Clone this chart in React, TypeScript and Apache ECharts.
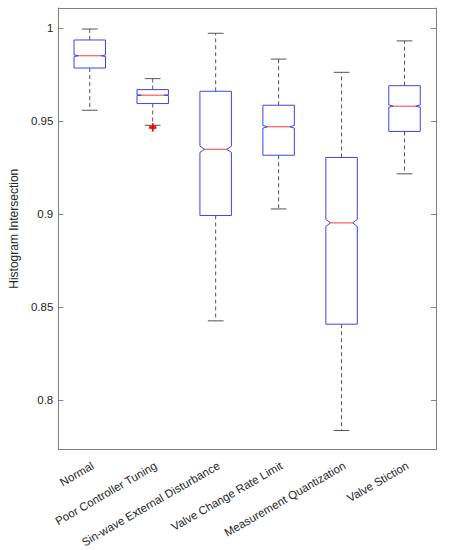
import React, { useEffect, useRef } from "react";
import * as echarts from "echarts";

const categories = [
  "Normal",
  "Poor Controller Tuning",
  "Sin-wave External Disturbance",
  "Valve Change Rate Limit",
  "Measurement Quantization",
  "Valve Stiction",
];
const whiskerHigh = [0.9996, 0.9729, 0.9973, 0.9834, 0.9763, 0.9932];
const q3 = [0.9937, 0.967, 0.9661, 0.9586, 0.9305, 0.9691];
const medians = [0.9852, 0.964, 0.9349, 0.947, 0.8953, 0.9581];
const q1 = [0.9786, 0.9595, 0.8993, 0.9317, 0.8408, 0.9445];
const whiskerLow = [0.9559, 0.9478, 0.8426, 0.9028, 0.7836, 0.9217];
const notchHalf = [0.0004, 0.0002, 0.0017, 0.0007, 0.0019, 0.0006];
const outliers: [number, number][] = [
  [1, 0.9472],
  [1, 0.9468],
  [1, 0.9465],
  [1, 0.9462],
];
const yTicks = [0.8, 0.85, 0.9, 0.95, 1];

const Y_MIN = 0.7734;
const Y_MAX = 1.0109;

const AXIS_COLOR = "#808080";
const TEXT_COLOR = "#262626";
const BOX_COLOR = "#4040f2";
const MED_COLOR = "#ff3a3a";
const WHISK_COLOR = "#555555";
const FONT = "'Liberation Sans', Arial, sans-serif";

export default function App() {
  const ref = useRef<HTMLDivElement>(null);
  useEffect(() => {
    document.body.style.margin = "0";
    const chart = echarts.init(ref.current!, null, { renderer: "svg" });
    const boxData = categories.map((_, i) => [
      i,
      whiskerLow[i],
      q1[i],
      medians[i],
      q3[i],
      whiskerHigh[i],
      notchHalf[i],
    ]);
    const renderItem = (params: any, api: any) => {
      const i = api.value(0);
      const lo = api.value(1);
      const b1 = api.value(2);
      const med = api.value(3);
      const b3 = api.value(4);
      const hi = api.value(5);
      const nh = api.value(6);
      const band = api.size([1, 0])[0];
      const bw = band * 0.5;
      const cx = api.coord([i, med])[0];
      const Y = (v: number) => api.coord([i, v])[1];
      const L = cx - bw / 2;
      const R = cx + bw / 2;
      const d = bw * 0.15;
      const capW = bw / 2;
      const dashStyle = { stroke: WHISK_COLOR, lineWidth: 1, lineDash: [4, 3] };
      const solid = { stroke: WHISK_COLOR, lineWidth: 1 };
      return {
        type: "group",
        children: [
          { type: "line", shape: { x1: cx, y1: Y(b3), x2: cx, y2: Y(hi) }, style: dashStyle },
          { type: "line", shape: { x1: cx, y1: Y(b1), x2: cx, y2: Y(lo) }, style: dashStyle },
          { type: "line", shape: { x1: cx - capW / 2, y1: Y(hi), x2: cx + capW / 2, y2: Y(hi) }, style: solid },
          { type: "line", shape: { x1: cx - capW / 2, y1: Y(lo), x2: cx + capW / 2, y2: Y(lo) }, style: solid },
          {
            type: "polygon",
            shape: {
              points: [
                [L, Y(b3)],
                [R, Y(b3)],
                [R, Y(med + nh)],
                [R - d, Y(med)],
                [R, Y(med - nh)],
                [R, Y(b1)],
                [L, Y(b1)],
                [L, Y(med - nh)],
                [L + d, Y(med)],
                [L, Y(med + nh)],
              ],
            },
            style: { fill: "none", stroke: BOX_COLOR, lineWidth: 1 },
          },
          {
            type: "line",
            shape: { x1: L + d, y1: Y(med), x2: R - d, y2: Y(med) },
            style: { stroke: MED_COLOR, lineWidth: 1 },
          },
        ],
      };
    };
    const option: any = {
      animation: false,
      grid: { left: 49, right: 14, top: 8, bottom: 98, containLabel: false },
      xAxis: [
        {
          type: "category",
          data: categories,
          position: "bottom",
          boundaryGap: true,
          axisLine: { lineStyle: { color: AXIS_COLOR } },
          axisTick: { inside: true, alignWithLabel: true, length: 5, lineStyle: { color: AXIS_COLOR } },
          axisLabel: {
            rotate: 30,
            interval: 0,
            margin: 10,
            align: "right",
            verticalAlign: "top",
            color: TEXT_COLOR,
            fontSize: 11.5,
            fontFamily: FONT,
          },
          splitLine: { show: false },
        },
        {
          type: "category",
          data: categories,
          position: "top",
          boundaryGap: true,
          axisLine: { lineStyle: { color: AXIS_COLOR } },
          axisTick: { inside: true, alignWithLabel: true, length: 5, lineStyle: { color: AXIS_COLOR } },
          axisLabel: { show: false },
          splitLine: { show: false },
        },
      ],
      yAxis: [
        {
          type: "value",
          min: Y_MIN,
          max: Y_MAX,
          position: "left",
          name: "Histogram Intersection",
          nameLocation: "middle",
          nameGap: 30,
          nameTextStyle: { color: TEXT_COLOR, fontSize: 12, fontFamily: FONT },
          axisLine: { show: true, lineStyle: { color: AXIS_COLOR } },
          axisTick: { show: true, inside: true, length: 5, customValues: yTicks, lineStyle: { color: AXIS_COLOR } },
          axisLabel: {
            customValues: yTicks,
            color: TEXT_COLOR,
            fontSize: 11.5,
            fontFamily: FONT,
            margin: 5,
            formatter: (v: number) => String(Number(v.toFixed(2))),
          },
          splitLine: { show: false },
        },
        {
          type: "value",
          min: Y_MIN,
          max: Y_MAX,
          position: "right",
          axisLine: { show: true, lineStyle: { color: AXIS_COLOR } },
          axisTick: { show: true, inside: true, length: 5, customValues: yTicks, lineStyle: { color: AXIS_COLOR } },
          axisLabel: { show: false },
          splitLine: { show: false },
        },
      ],
      series: [
        {
          type: "custom",
          xAxisIndex: 0,
          yAxisIndex: 0,
          renderItem,
          data: boxData,
          encode: { x: 0, y: [1, 5] },
          silent: true,
        },
        {
          type: "scatter",
          xAxisIndex: 0,
          yAxisIndex: 0,
          data: outliers,
          symbol: "path://M4,0H6V4H10V6H6V10H4V6H0V4H4Z",
          symbolSize: 7,
          itemStyle: { color: "#ff0000" },
          silent: true,
        },
      ],
    };
    chart.setOption(option);
    return () => chart.dispose();
  }, []);
  return <div ref={ref} style={{ width: 450, height: 550, background: "#fff" }} />;
}
